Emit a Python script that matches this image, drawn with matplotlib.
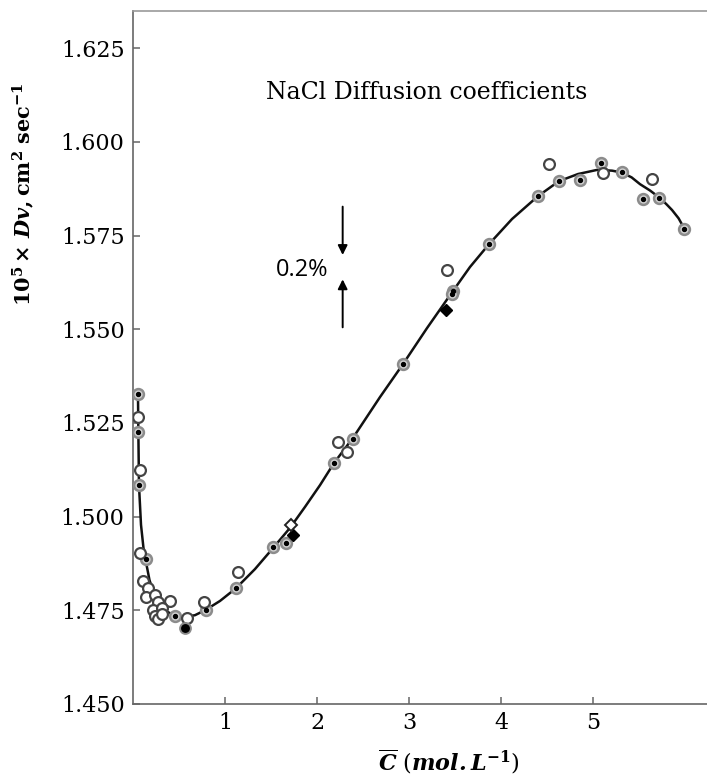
import matplotlib

matplotlib.use("Agg")

import matplotlib.pyplot as plt

# Concentration (mol/L) and Dv values
RING_C = [0.058, 0.058, 0.065, 0.138, 0.457, 0.790, 1.116, 1.525, 1.660,
          2.185, 2.388, 2.938, 3.482, 3.470, 3.873, 4.399, 4.634, 4.859,
          5.087, 5.312, 5.540, 5.721, 5.992]
RING_D = [1.5327, 1.5226, 1.5084, 1.4886, 1.4735, 1.4751, 1.4809, 1.4920,
          1.4929, 1.5144, 1.5206, 1.5407, 1.5603, 1.5594, 1.5727, 1.5856,
          1.5896, 1.5898, 1.5943, 1.5919, 1.5847, 1.5851, 1.5768]

OPEN_C = [0.051, 0.076, 0.076, 0.112, 0.166, 0.138, 0.239, 0.275, 0.402,
          0.221, 0.312, 0.239, 0.275, 0.318, 0.584, 0.772, 1.138, 2.232,
          2.323, 3.410, 4.525, 5.105, 5.641]
OPEN_D = [1.5265, 1.5124, 1.4902, 1.4829, 1.4809, 1.4786, 1.4790, 1.4773,
          1.4776, 1.4751, 1.4755, 1.4735, 1.4726, 1.4740, 1.4729, 1.4771,
          1.4851, 1.5200, 1.5172, 1.5658, 1.5941, 1.5916, 1.5900]

SOLID_C = [0.565]
SOLID_D = [1.4702]

DIAMOND_C = [1.736, 3.399]
DIAMOND_D = [1.4952, 1.5551]

OPEN_DIAMOND_C = [1.721]
OPEN_DIAMOND_D = [1.4978]

CURVE_C = [0.054, 0.058, 0.065, 0.087, 0.114, 0.141, 0.179, 0.228, 0.283,
           0.359, 0.457, 0.565, 0.674, 0.790, 0.946, 1.120, 1.326, 1.522,
           1.707, 1.870, 2.033, 2.185, 2.391, 2.685, 2.935, 3.196, 3.478,
           3.663, 3.870, 4.120, 4.402, 4.630, 4.837, 5.043, 5.207, 5.315,
           5.420, 5.511, 5.620, 5.728, 5.800, 5.859, 5.930, 5.989]
CURVE_D = [1.5327, 1.5231, 1.5084, 1.4978, 1.4916, 1.4879, 1.4831, 1.4793,
           1.4767, 1.4748, 1.4735, 1.4732, 1.4737, 1.4751, 1.4775, 1.4809,
           1.4860, 1.4916, 1.4970, 1.5026, 1.5084, 1.5143, 1.5210, 1.5319,
           1.5407, 1.5503, 1.5602, 1.5666, 1.5727, 1.5794, 1.5855, 1.5895,
           1.5914, 1.5925, 1.5923, 1.5918, 1.5905, 1.5887, 1.5870, 1.5850,
           1.5833, 1.5818, 1.5796, 1.5770]

X_TICKS = [1, 2, 3, 4, 5]
Y_TICKS = [1.450, 1.475, 1.500, 1.525, 1.550, 1.575, 1.600, 1.625]

SPINE_COLOR = "#666666"


def draw_points(ax) -> None:
    ax.plot(CURVE_C, CURVE_D, color="#111111", linewidth=1.8, zorder=2)

    ax.plot(
        RING_C, RING_D, linestyle="none", marker="o", markersize=7.8,
        markerfacecolor="#cfcfcf", markeredgecolor="#8c8c8c",
        markeredgewidth=1.8, zorder=3,
    )
    ax.plot(
        RING_C, RING_D, linestyle="none", marker="o", markersize=2.8,
        markerfacecolor="black", markeredgecolor="black", zorder=4,
    )
    ax.plot(
        OPEN_C, OPEN_D, linestyle="none", marker="o", markersize=7.8,
        markerfacecolor="white", markeredgecolor="#444444",
        markeredgewidth=1.6, zorder=3,
    )
    ax.plot(
        SOLID_C, SOLID_D, linestyle="none", marker="o", markersize=7.8,
        markerfacecolor="black", markeredgecolor="#8c8c8c",
        markeredgewidth=1.4, zorder=3,
    )
    ax.plot(
        DIAMOND_C, DIAMOND_D, linestyle="none", marker="D", markersize=6.5,
        markerfacecolor="black", markeredgecolor="black", zorder=3,
    )
    ax.plot(
        OPEN_DIAMOND_C, OPEN_DIAMOND_D, linestyle="none", marker="D",
        markersize=6.5, markerfacecolor="white", markeredgecolor="#222222",
        markeredgewidth=1.4, zorder=3,
    )


def main() -> None:
    plt.rcParams["mathtext.fontset"] = "dejavuserif"

    fig = plt.figure(figsize=(7.07, 7.80), dpi=100)
    ax = fig.add_axes([133 / 707, 76 / 780, 574 / 707, 693 / 780])

    draw_points(ax)

    ax.set_xlim(0, 574 / 92)
    ax.set_ylim(1.450, 1.450 + 693 / 3748)

    ax.set_xticks(X_TICKS)
    ax.set_xticklabels([str(t) for t in X_TICKS])
    ax.set_yticks(Y_TICKS)
    ax.set_yticklabels([f"{t:.3f}" for t in Y_TICKS])

    ax.tick_params(
        axis="both", direction="in", length=5, width=1.1,
        color=SPINE_COLOR, labelsize=16,
    )
    ax.tick_params(axis="y", pad=6)
    ax.tick_params(axis="x", pad=6)
    for label in ax.get_xticklabels() + ax.get_yticklabels():
        label.set_fontfamily("DejaVu Serif")

    ax.spines["right"].set_visible(False)
    for side in ("left", "bottom", "top"):
        ax.spines[side].set_color(SPINE_COLOR)
        ax.spines[side].set_linewidth(1.2)
    ax.spines["top"].set_color("#999999")

    ax.text(
        3.192, 1.6113, "NaCl Diffusion coefficients",
        fontsize=17, fontfamily="DejaVu Serif",
        ha="center", va="baseline",
    )

    ax.text(
        1.834, 1.5642, "0.2%", fontsize=17, fontfamily="Open Sans",
        ha="center", va="baseline",
    )
    arrow_style = dict(arrowstyle="-|>", color="black", lw=1.4,
                       mutation_scale=14, shrinkA=0, shrinkB=0)
    ax.annotate("", xy=(2.279, 1.5698), xytext=(2.279, 1.5827),
                arrowprops=arrow_style)
    ax.annotate("", xy=(2.279, 1.5633), xytext=(2.279, 1.5505),
                arrowprops=arrow_style)

    fig.text(
        24 / 707, 1 - 194 / 780,
        r"$\mathbf{10^{5}\times}\,\mathbfit{Dv}\mathbf{,cm^{2}\ sec^{-1}}$",
        fontsize=15, rotation=90, ha="center", va="center",
    )
    fig.text(
        449 / 707, 1 - 762 / 780,
        r"$\overline{\mathbfit{C}}\ (\mathbfit{mol.L}^{\mathbf{-1}})$",
        fontsize=16, ha="center", va="center",
    )

    fig.savefig("out.png", dpi=100)
    plt.close(fig)


if __name__ == "__main__":
    main()
